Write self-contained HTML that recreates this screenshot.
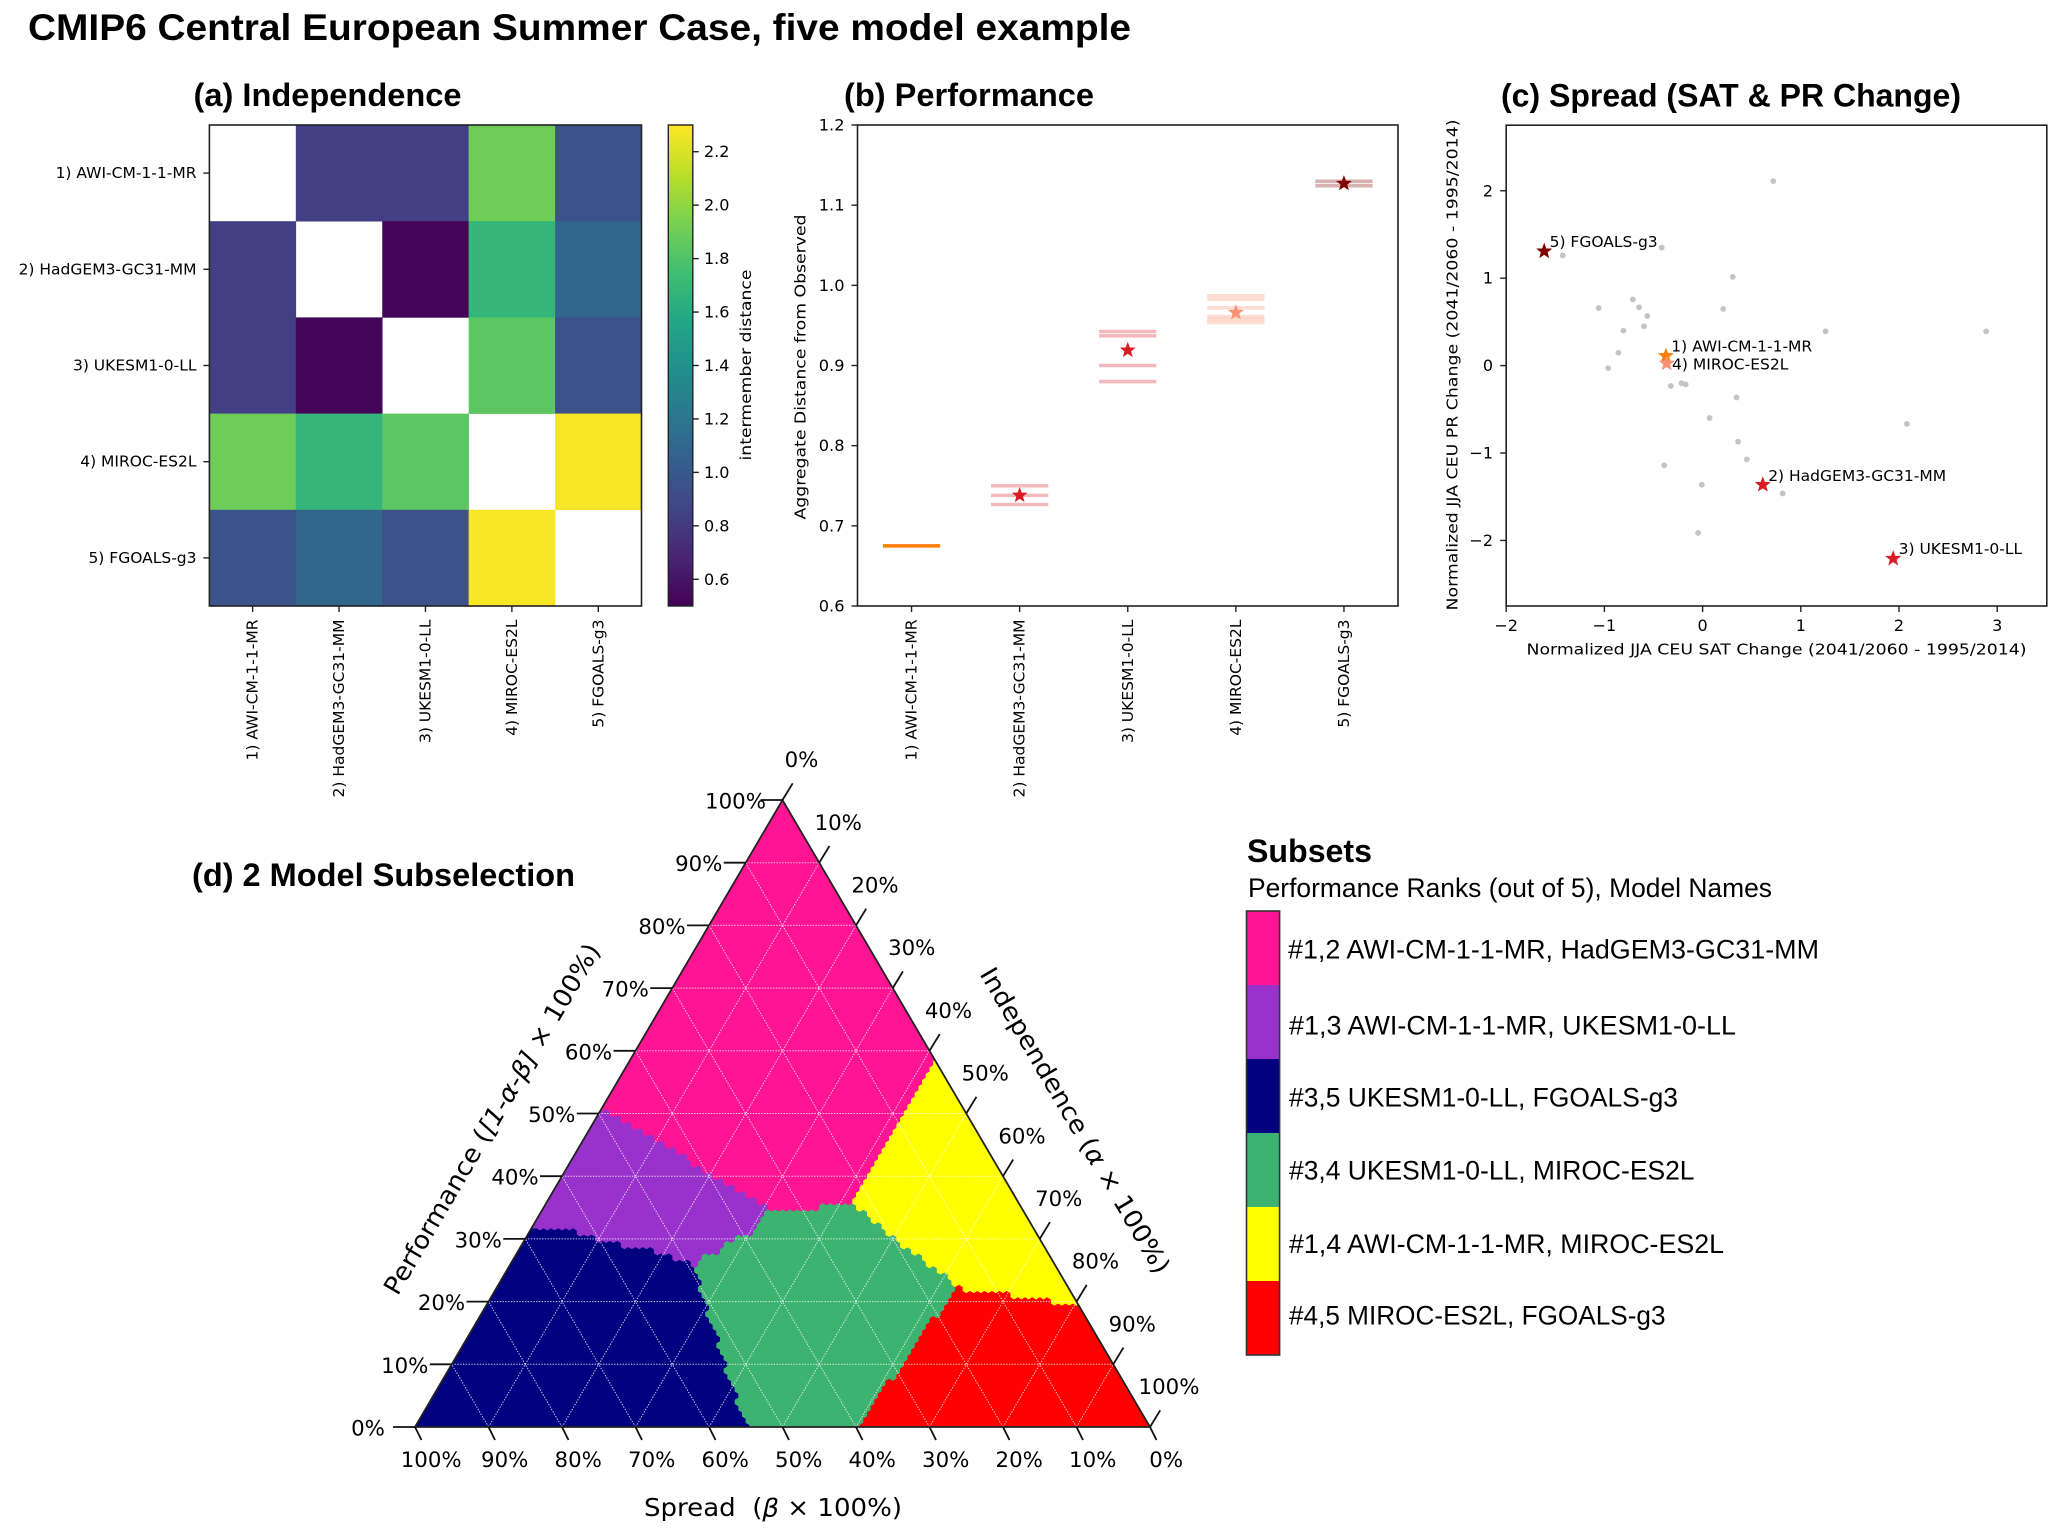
<!DOCTYPE html>
<html lang="en">
<head>
<meta charset="utf-8">
<title>CMIP6 Central European Summer Case</title>
<style>
html,body{margin:0;padding:0;background:#fff;}
svg{display:block;}
.h{font-family:"Liberation Sans",Arial,sans-serif;fill:#000;}
.b{font-weight:700;}
.d{font-family:"DejaVu Sans",sans-serif;fill:#000;}
</style>
</head>
<body>
<svg id="fig" xmlns="http://www.w3.org/2000/svg" width="2067" height="1533" viewBox="0 0 2067 1533">
  <defs>
    <clipPath id="tri-clip"><polygon points="415,1427 1150,1427 782.5,800"/></clipPath>
    <linearGradient id="viridis-grad" x1="0" y1="1" x2="0" y2="0"></linearGradient>
  </defs>
  <rect width="2067" height="1533" fill="#fff"/>

  <text class="h b" x="28" y="40" font-size="37" textLength="1103" lengthAdjust="spacingAndGlyphs">CMIP6 Central European Summer Case, five model example</text>
  <text class="h b" x="193.5" y="106" font-size="32" textLength="268" lengthAdjust="spacingAndGlyphs">(a) Independence</text>
  <text class="h b" x="844" y="106" font-size="32" textLength="250" lengthAdjust="spacingAndGlyphs">(b) Performance</text>
  <text class="h b" x="1501" y="106.5" font-size="32" textLength="460" lengthAdjust="spacingAndGlyphs">(c) Spread (SAT &amp; PR Change)</text>
  <text class="h b" x="192" y="886" font-size="32" textLength="383" lengthAdjust="spacingAndGlyphs">(d) 2 Model Subselection</text>

  <g id="panel-a"></g>
  <g id="panel-b"></g>
  <g id="panel-c"></g>
  <g id="panel-d"></g>
  <g id="legend">
    <text class="h b" x="1247" y="862" font-size="32" textLength="125" lengthAdjust="spacingAndGlyphs">Subsets</text>
    <text class="h" x="1248" y="896.8" font-size="26.5" textLength="524" lengthAdjust="spacingAndGlyphs">Performance Ranks (out of 5), Model Names</text>
  </g>

  <text class="d" x="800.5" y="367" font-size="15.5" text-anchor="middle" dominant-baseline="central" textLength="305" lengthAdjust="spacingAndGlyphs" transform="rotate(-90 800.5 367)">Aggregate Distance from Observed</text>
  <text class="d" x="746" y="365" font-size="15.5" text-anchor="middle" dominant-baseline="central" textLength="191" lengthAdjust="spacingAndGlyphs" transform="rotate(-90 746 365)">intermember distance</text>
  <text class="d" x="1776.5" y="649.5" font-size="15.5" text-anchor="middle" dominant-baseline="central" textLength="500" lengthAdjust="spacingAndGlyphs">Normalized JJA CEU SAT Change (2041/2060 - 1995/2014)</text>
  <text class="d" x="1452.5" y="365" font-size="15.5" text-anchor="middle" dominant-baseline="central" textLength="491" lengthAdjust="spacingAndGlyphs" transform="rotate(-90 1452.5 365)">Normalized JJA CEU PR Change (2041/2060 - 1995/2014)</text>

  <text class="d" x="773" y="1507.5" font-size="25" text-anchor="middle" dominant-baseline="central" textLength="258" lengthAdjust="spacingAndGlyphs">Spread&#160;&#160;(<tspan font-style="italic">β</tspan> × 100%)</text>
  <text class="d" x="492" y="1119" font-size="25" text-anchor="middle" dominant-baseline="central" textLength="402" lengthAdjust="spacingAndGlyphs" transform="rotate(-59.6 492 1119)">Performance (<tspan font-style="italic">[1-α-β]</tspan> × 100%)</text>
  <text class="d" x="1075" y="1120.5" font-size="25" text-anchor="middle" dominant-baseline="central" textLength="350" lengthAdjust="spacingAndGlyphs" transform="rotate(59.6 1075 1120.5)">Independence (<tspan font-style="italic">α</tspan> × 100%)</text>
</svg>

<script>
/* ---------- data ---------- */
const modelNames = ['1) AWI-CM-1-1-MR','2) HadGEM3-GC31-MM','3) UKESM1-0-LL','4) MIROC-ES2L','5) FGOALS-g3'];
const distanceMatrix = [
  [null,0.83,0.83,1.90,0.95],
  [0.83,null,0.52,1.68,1.10],
  [0.83,0.52,null,1.84,0.94],
  [1.90,1.68,1.84,null,2.28],
  [0.95,1.10,0.94,2.28,null]
];
const colorbarTicks = [0.6,0.8,1.0,1.2,1.4,1.6,1.8,2.0,2.2];
const perfTicks = [0.6,0.7,0.8,0.9,1.0,1.1,1.2];
const perfEnsembleM1 = [0.675];
const perfEnsembleM2 = [0.750,0.738,0.7266];
const perfEnsembleM3 = [0.9424,0.937,0.900,0.880];
const perfEnsembleM4 = [0.987,0.9825,0.972,0.961,0.9575,0.9535];
const perfEnsembleM5 = [1.1297,1.1243];
const perfEnsembles = [perfEnsembleM1,perfEnsembleM2,perfEnsembleM3,perfEnsembleM4,perfEnsembleM5];
const perfMeans = [null,0.738,0.919,0.966,1.127];
const modelColors = ['#ff7f00','#dc1c24','#dc1c24','#fc9272','#7f0000'];
const scatterXTicks = [-2,-1,0,1,2,3];
const scatterYTicks = [-2,-1,0,1,2];
const otherSat = [0.72,-0.416,-1.424,0.307,-1.059,-0.71,-0.647,-0.563,-0.597,0.21,-0.807,1.252,2.887,-0.857,-0.962,-0.324,-0.214,-0.172,0.345,0.071,2.08,0.361,0.45,-0.391,-0.008,0.815,-0.046];
const otherPr  = [2.11,1.35,1.26,1.015,0.658,0.757,0.667,0.567,0.45,0.649,0.40,0.391,0.391,0.147,-0.029,-0.233,-0.201,-0.215,-0.364,-0.599,-0.667,-0.87,-1.073,-1.141,-1.363,-1.462,-1.914];
const modelSat = [-0.374,0.613,1.941,-0.366,-1.613];
const modelPr  = [0.111,-1.363,-2.208,0.025,1.308];
const ternaryTicks = [0,10,20,30,40,50,60,70,80,90,100];
const gridLevels = [10,20,30,40,50,60,70,80,90];
/* subset regions as [performance %, spread %] vertices */
const regionPink = [[100,0],[58.9,0],[55.3,3.4],[48.5,10.2],[40.5,18.3],[35.8,22.7],[35.7,27.1],[34.9,27.9],[34.6,29.9],[34.9,34.5],[38.3,37.6],[40.5,40.1],[43.9,42.4],[45.8,44.5],[49.3,47.5],[50.5,49.5]];
const regionPurple = [[50.5,49.5],[49.3,47.5],[45.8,44.5],[43.9,42.4],[40.5,40.1],[38.3,37.6],[34.9,34.5],[32.5,37.3],[30.9,39],[29.8,41.8],[28.2,44.4],[26.6,48.3],[25.6,49.4],[27.7,52.4],[28.5,55.6],[29.3,58.4],[30.6,61.6],[31.4,64.1],[31.7,68.3]];
const regionNavy = [[31.7,68.3],[31.4,64.1],[30.6,61.6],[29.3,58.4],[28.5,55.6],[27.7,52.4],[25.6,49.4],[20.3,50.5],[11.2,52.6],[6.4,53.7],[0,54.8],[0,100]];
const regionGreen = [[35.8,22.7],[35.7,27.1],[34.9,27.9],[34.6,29.9],[34.9,34.5],[32.5,37.3],[30.9,39],[29.8,41.8],[28.2,44.4],[26.6,48.3],[25.6,49.4],[20.3,50.5],[11.2,52.6],[6.4,53.7],[0,54.8],[0,39.7],[8.6,30.3],[14.4,24],[19.8,17.8],[22.7,15],[23.5,15.5],[27.4,18],[30.6,20.1]];
const regionYellow = [[58.9,0],[55.3,3.4],[48.5,10.2],[40.5,18.3],[35.8,22.7],[30.6,20.1],[27.4,18],[23.5,15.5],[22.7,15],[21.7,14.1],[21.6,8.3],[20.7,8.3],[20.6,3.3],[19.8,3.5],[19.8,0]];
const regionRed = [[22.7,15],[21.7,14.1],[21.6,8.3],[20.7,8.3],[20.6,3.3],[19.8,3.5],[19.8,0],[0,0],[0,39.7],[8.6,30.3],[14.4,24],[19.8,17.8]];
const subsetRegions = [regionPink,regionPurple,regionNavy,regionGreen,regionYellow,regionRed];
const subsetColors = ['#ff1493','#9932cc','#000080','#3cb371','#ffff00','#ff0000'];
const subsetNames = ['#1,2 AWI-CM-1-1-MR, HadGEM3-GC31-MM','#1,3 AWI-CM-1-1-MR, UKESM1-0-LL','#3,5 UKESM1-0-LL, FGOALS-g3','#3,4 UKESM1-0-LL, MIROC-ES2L','#1,4 AWI-CM-1-1-MR, MIROC-ES2L','#4,5 MIROC-ES2L, FGOALS-g3'];
const subsetKeys = ['pink','purple','navy','green','yellow','red'];
const viridisStops = ['#440154','#482475','#414487','#355f8d','#2a788e','#21918c','#22a884','#44bf70','#7ad151','#bddf26','#fde725'];

/* ---------- helpers ---------- */
const NS = 'http://www.w3.org/2000/svg';
function mk(tag, attrs, parent, text) {
  const e = document.createElementNS(NS, tag);
  for (const k in attrs) e.setAttribute(k, attrs[k]);
  if (text !== undefined) e.textContent = text;
  parent.appendChild(e);
  return e;
}
function hexRgb(h){return [1,3,5].map(i=>parseInt(h.substr(i,2),16));}
function viridis(t){
  t=Math.max(0,Math.min(1,t))*10;
  const i=Math.min(9,Math.floor(t)),f=t-i,a=hexRgb(viridisStops[i]),b=hexRgb(viridisStops[i+1]);
  return 'rgb('+a.map((v,j)=>Math.round(v+(b[j]-v)*f)).join(',')+')';
}
function starPoints(cx,cy,r){
  const pts=[];
  for(let i=0;i<10;i++){
    const R=i%2?r*0.42:r, a=-Math.PI/2+i*Math.PI/5;
    pts.push((cx+R*Math.cos(a)).toFixed(2)+','+(cy+R*Math.sin(a)).toFixed(2));
  }
  return pts.join(' ');
}
const frameColor='#222', tickFont=15.5;

/* ---------- panel a ---------- */
const A={l:209.4,r:641.5,t:125,b:606};
const cellW=(A.r-A.l)/5, cellH=(A.b-A.t)/5;
const aX=i=>A.l+i*cellW, aY=i=>A.t+i*cellH;
const CB={l:668.3,r:692.8,t:125,b:606,min:0.5,max:2.3};
const colorT=v=>(v-CB.min)/(CB.max-CB.min);
const cbY=v=>CB.b-colorT(v)*(CB.b-CB.t);
const pa=document.getElementById('panel-a');
distanceMatrix.forEach((row,r)=>row.forEach((v,c)=>{
  if(v===null) return;
  const cell=mk('rect',{x:aX(c),y:aY(r),width:cellW+0.3,height:cellH+0.3,fill:viridis(colorT(v))},pa);
  
  
}));
const aFrame=mk('rect',{x:A.l,y:A.t,width:A.r-A.l,height:A.b-A.t,fill:'none',stroke:frameColor,'stroke-width':1.6},pa);



function categoryAxis(parent,xOf,bottom){
  modelNames.forEach((n,i)=>{
    const x=xOf(i);
    const t=mk('line',{x1:x,x2:x,y1:bottom,y2:bottom+6,stroke:frameColor,'stroke-width':1.4},parent);
    
    
    const l=mk('text',{class:'d',x:x,y:619.5,'font-size':tickFont,'text-anchor':'end','dominant-baseline':'central',transform:'rotate(-90 '+x+' 619.5)'},parent,n);
    
    
  });
}
categoryAxis(pa,i=>aX(i)+cellW/2,A.b);
modelNames.forEach((n,i)=>{
  const y=aY(i)+cellH/2;
  const t=mk('line',{x1:A.l-6,x2:A.l,y1:y,y2:y,stroke:frameColor,'stroke-width':1.4},pa);
  
  
  const l=mk('text',{class:'d',x:196.5,y:y,'font-size':tickFont,'text-anchor':'end','dominant-baseline':'central'},pa,n);
  
  
});
const grad=document.getElementById('viridis-grad');
viridisStops.forEach((c,i)=>{
  mk('stop',{offset:(i*10)+'%','stop-color':c},grad);
});
const cbar=mk('rect',{x:CB.l,y:CB.t,width:CB.r-CB.l,height:CB.b-CB.t,fill:'url(#viridis-grad)',stroke:frameColor,'stroke-width':1.4},pa);


colorbarTicks.forEach(v=>{
  const y=cbY(v);
  const t=mk('line',{x1:CB.r,x2:CB.r+6,y1:y,y2:y,stroke:frameColor,'stroke-width':1.4},pa);
  
  
  const l=mk('text',{class:'d',x:704,y:y,'font-size':16,'dominant-baseline':'central'},pa,v.toFixed(1));
  
  
});

/* ---------- panel b ---------- */
const B={l:857.5,r:1398,t:125,b:606,ymin:0.6,ymax:1.2,xmin:-0.5,xmax:4.5};
const bX=i=>B.l+(i-B.xmin)/(B.xmax-B.xmin)*(B.r-B.l);
const bY=v=>B.b-(v-B.ymin)/(B.ymax-B.ymin)*(B.b-B.t);
const pb=document.getElementById('panel-b');
perfEnsembles.forEach((vals,i)=>{
  vals.forEach(v=>{
    const m=mk('line',{x1:bX(i-0.265),x2:bX(i+0.265),y1:bY(v),y2:bY(v),stroke:modelColors[i],'stroke-width':3.6,opacity:i===0?1:0.3},pb);
    
    
  });
  if(perfMeans[i]!==null){
    const s=mk('polygon',{points:starPoints(bX(i),bY(perfMeans[i]),7.2),fill:modelColors[i],stroke:modelColors[i],'stroke-width':0.8},pb);
    
    
  }
});
const bFrame=mk('rect',{x:B.l,y:B.t,width:B.r-B.l,height:B.b-B.t,fill:'none',stroke:frameColor,'stroke-width':1.6},pb);


categoryAxis(pb,bX,B.b);
perfTicks.forEach(v=>{
  const y=bY(v);
  const t=mk('line',{x1:B.l-6,x2:B.l,y1:y,y2:y,stroke:frameColor,'stroke-width':1.4},pb);
  
  
  const l=mk('text',{class:'d',x:844.5,y:y,'font-size':16.2,'text-anchor':'end','dominant-baseline':'central'},pb,v.toFixed(1));
  
  
});

/* ---------- panel c ---------- */
const C={l:1506.2,r:2046.8,t:125.2,b:606,xmin:-2,xmax:3.505,ymin:-2.75,ymax:2.75};
const cX=v=>C.l+(v-C.xmin)/(C.xmax-C.xmin)*(C.r-C.l);
const cY=v=>C.b-(v-C.ymin)/(C.ymax-C.ymin)*(C.b-C.t);
const pc=document.getElementById('panel-c');
otherSat.forEach((x,i)=>{
  const p=mk('circle',{cx:cX(x),cy:cY(otherPr[i]),r:2.9,fill:'#c4c4c4'},pc);
  
  
});
const labelDy=[-9.5,-9,-9.5,1,-9.5];
modelSat.forEach((x,i)=>{
  const s=mk('polygon',{points:starPoints(cX(x),cY(modelPr[i]),7.6),fill:modelColors[i],stroke:modelColors[i],'stroke-width':0.6},pc);
  
  
  const l=mk('text',{class:'d',x:cX(x)+5.4,y:cY(modelPr[i])+labelDy[i],'font-size':tickFont,'dominant-baseline':'central'},pc,modelNames[i]);
  
  
});
const cFrame=mk('rect',{x:C.l,y:C.t,width:C.r-C.l,height:C.b-C.t,fill:'none',stroke:frameColor,'stroke-width':1.6},pc);


scatterXTicks.forEach(v=>{
  const x=cX(v);
  const t=mk('line',{x1:x,x2:x,y1:C.b,y2:C.b+6,stroke:frameColor,'stroke-width':1.4},pc);
  
  
  const l=mk('text',{class:'d',x:x,y:625.5,'font-size':16,'text-anchor':'middle','dominant-baseline':'central'},pc,String(v).replace('-','\u2212'));
  
  
});
scatterYTicks.forEach(v=>{
  const y=cY(v);
  const t=mk('line',{x1:C.l-6,x2:C.l,y1:y,y2:y,stroke:frameColor,'stroke-width':1.4},pc);
  
  
  const l=mk('text',{class:'d',x:1493,y:y,'font-size':16,'text-anchor':'end','dominant-baseline':'central'},pc,String(v).replace('-','\u2212'));
  
  
});

/* ---------- panel d ---------- */
const TL=[415,1427],TR=[1150,1427],TT=[782.5,800];
function tern(p,b){ /* performance %, spread % -> pixel */
  const P=p/100,Bt=b/100,Al=1-P-Bt;
  return [Al*TR[0]+Bt*TL[0]+P*TT[0],Al*TR[1]+Bt*TL[1]+P*TT[1]];
}
function inside(poly,p,b){
  let c=false;
  for(let i=0,j=poly.length-1;i<poly.length;j=i++){
    const pi=poly[i],pj=poly[j];
    if((pi[0]>p)!==(pj[0]>p) && b<(pj[1]-pi[1])*(p-pi[0])/(pj[0]-pi[0])+pi[1]) c=!c;
  }
  return c;
}
const pd=document.getElementById('panel-d');
const regionGroup=mk('g',{'clip-path':'url(#tri-clip)'},pd);


const hexR=4.3;
function hexPath(x,y){
  const rx=hexR*0.866;
  return 'M'+x.toFixed(1)+' '+(y-hexR).toFixed(1)+'l'+rx.toFixed(2)+' '+(hexR/2).toFixed(2)+'v'+hexR.toFixed(2)+'l'+(-rx).toFixed(2)+' '+(hexR/2).toFixed(2)+'l'+(-rx).toFixed(2)+' '+(-hexR/2).toFixed(2)+'v'+(-hexR).toFixed(2)+'z';
}
const hexD=subsetRegions.map(()=>[]);
for(let p=0;p<=100;p++){
  for(let b=0;b<=100-p;b++){
    for(let k=0;k<subsetRegions.length;k++){
      if(inside(subsetRegions[k],p,b)){
        const q=tern(p,b);
        hexD[k].push(hexPath(q[0],q[1]));
        break;
      }
    }
  }
}
subsetRegions.forEach((poly,k)=>{
  const pts=poly.map(v=>tern(v[0],v[1]).map(n=>n.toFixed(1)).join(',')).join(' ');
  const g=mk('polygon',{points:pts,fill:subsetColors[k]},regionGroup);
  
  
});
subsetRegions.forEach((poly,k)=>{
  const h=mk('path',{d:hexD[k].join(''),fill:subsetColors[k]},regionGroup);
  
  
});
function gridLine(a,b){
  const l=mk('line',{x1:a[0],y1:a[1],x2:b[0],y2:b[1],stroke:'#fff','stroke-width':1,'stroke-dasharray':'1.4 1.4',opacity:0.8},pd);
  
  
}
gridLevels.forEach(v=>{
  gridLine(tern(v,100-v),tern(v,0));
  gridLine(tern(0,v),tern(100-v,v));
  gridLine(tern(0,100-v),tern(100-v,0));
});
const triOutline=mk('polygon',{points:[TL,TR,TT].map(q=>q.join(',')).join(' '),fill:'none',stroke:'#222','stroke-width':1.8},pd);


function ternTick(q,dx,dy,lx,ly,v,name){
  const t=mk('line',{x1:q[0],y1:q[1],x2:q[0]+dx,y2:q[1]+dy,stroke:'#111','stroke-width':1.8},pd);
  
  
  const l=mk('text',{class:'d',x:q[0]+lx,y:q[1]+ly,'font-size':21.3,'text-anchor':'middle','dominant-baseline':'central'},pd,v+'%');
  
  
}
ternaryTicks.forEach(v=>{
  ternTick(tern(v,100-v),-22,0,-47,2,v,'performance');
  ternTick(tern(0,v),6.5,13,16.2,33.5,v,'spread');
  ternTick(tern(100-v,0),10.2,-16.7,19,-39.4,v,'independence');
});

/* ---------- legend ---------- */
const LG={l:1246.5,r:1279.6,t:911,b:1355};
const lgH=(LG.b-LG.t)/subsetNames.length;
const lgBase=[958.6,1034.3,1106.4,1179.6,1253,1324.6];
const lgLen=[531,447,389,405.5,435,376.5];
const legend=document.getElementById('legend');
subsetNames.forEach((n,i)=>{
  const sw=mk('rect',{x:LG.l,y:LG.t+i*lgH,width:LG.r-LG.l,height:lgH+0.3,fill:subsetColors[i]},legend);
  
  
  const l=mk('text',{class:'h',x:i===0?1288:1289,y:lgBase[i],'font-size':27,textLength:lgLen[i],lengthAdjust:'spacingAndGlyphs'},legend,n);
  
  
});
const lgFrame=mk('rect',{x:LG.l,y:LG.t,width:LG.r-LG.l,height:LG.b-LG.t,fill:'none',stroke:'#333','stroke-width':1.6},legend);


</script>
</body>
</html>
